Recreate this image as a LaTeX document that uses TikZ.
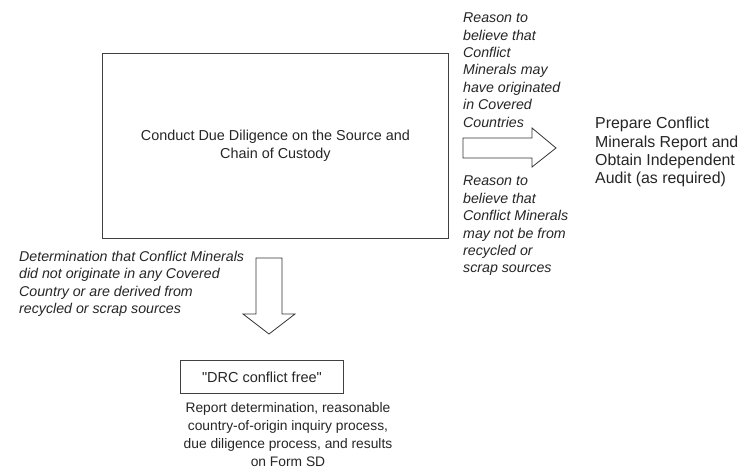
\documentclass[tikz,border=0pt]{standalone}
\usepackage{fontspec}
\setmainfont{Liberation Sans}[Ligatures=TeXOff]
\begin{document}
\begin{tikzpicture}[x=1pt,y=-1pt,
  box/.style={draw=black!75,line width=0.9pt,inner sep=0pt},
  blockarrow/.style={draw=black!80,line width=0.8pt,fill=white,line join=miter},
  note/.style={inner sep=0pt,font=\fontsize{14.2}{17.4}\selectfont\itshape,align=left,text=black!85},
  plain/.style={inner sep=0pt,text=black!85}]
\useasboundingbox[fill=white] (0,0) rectangle (756,472);
% main box
\node[box,minimum width=346pt,minimum height=185pt,anchor=north west] (main) at (102,53) {};
\node[plain,font=\fontsize{14.4}{18}\selectfont,align=center] (maintext) at (main.center) {Conduct Due Diligence on the Source and\\Chain of Custody};
% right arrow
\draw[blockarrow] (463,138) -- (532,138) -- (532,128) -- (556,148) -- (532,167) -- (532,158) -- (463,158) -- cycle;
\coordinate (rarrow) at (463,148);
% notes right
\node[note,anchor=west] (n1) at (463,70) {Reason to\\believe that\\Conflict\\Minerals may\\have originated\\in Covered\\Countries};
\node[note,anchor=west] (n2) at (463,226) {Reason to\\believe that\\Conflict Minerals\\may not be from\\recycled or\\scrap sources};
\node[plain,anchor=west,font=\fontsize{15.9}{18.2}\selectfont,align=left] (prep) at (595,152) {Prepare Conflict\\Minerals Report and\\Obtain Independent\\Audit (as required)};
% down arrow
\draw[blockarrow] (256,258) -- (282,258) -- (282,314) -- (295,314) -- (269,334) -- (243,314) -- (256,314) -- cycle;
\node[note,anchor=west] (n3) at (19,284) {Determination that Conflict Minerals\\did not originate in any Covered\\Country or are derived from\\recycled or scrap sources};
% DRC box
\node[box,minimum width=163pt,minimum height=33pt,anchor=north west] (drc) at (180,360) {};
\node[plain,font=\fontsize{14.5}{18}\selectfont] (drctext) at (drc.center) {"DRC conflict free"};
\node[plain,font=\fontsize{13.8}{18}\selectfont,align=center] (report) at (288,435) {Report determination, reasonable\\country-of-origin inquiry process,\\due diligence process, and results\\on Form SD};
\end{tikzpicture}
\end{document}
